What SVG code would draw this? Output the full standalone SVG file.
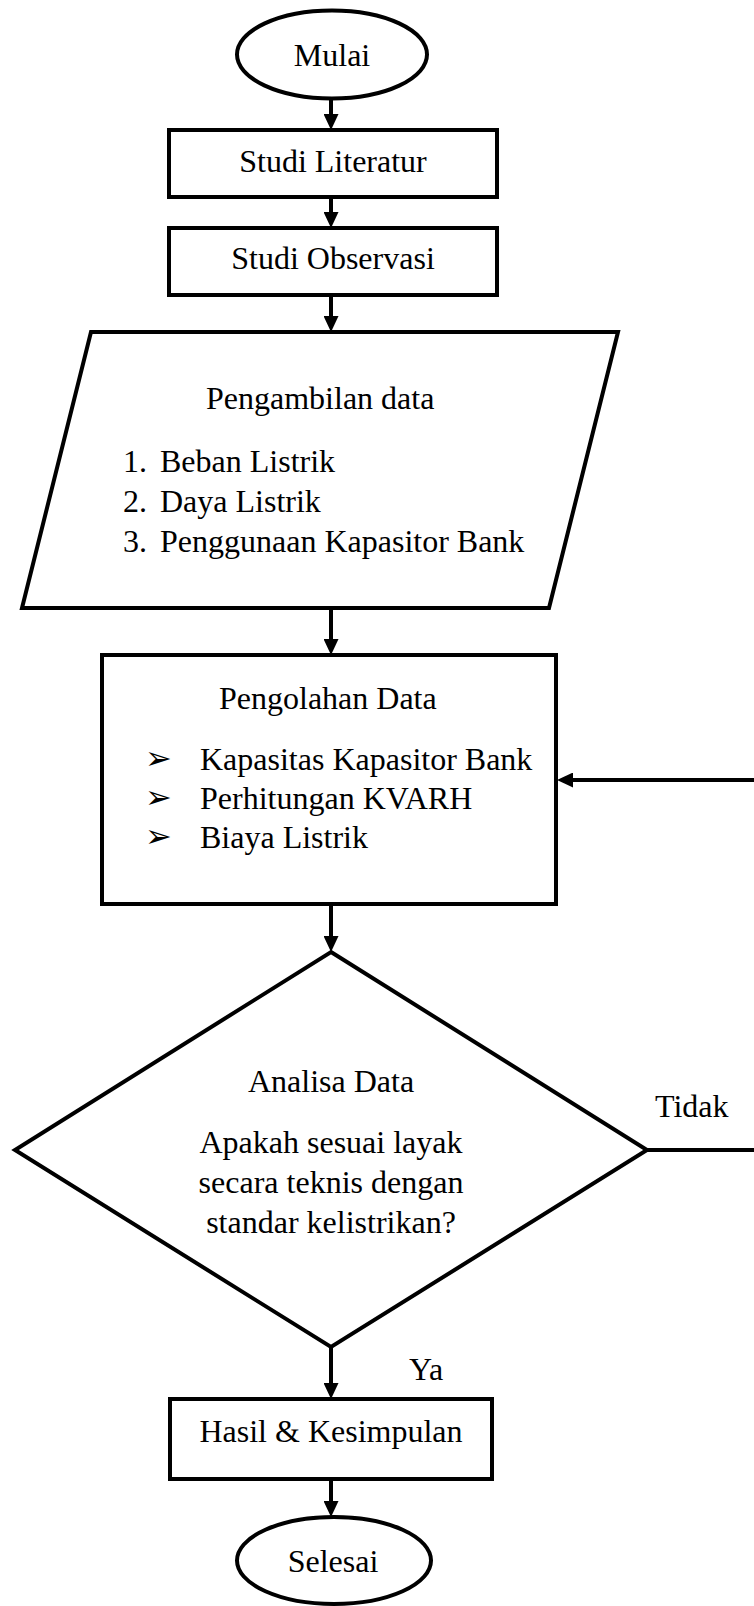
<svg xmlns="http://www.w3.org/2000/svg" width="754" height="1606" viewBox="0 0 754 1606">
<style>
.s{fill:#fff;stroke:#000;stroke-width:4}
.c{fill:none;stroke:#000;stroke-width:4}
text{font-family:"Liberation Serif","Times New Roman",serif;font-size:32px;fill:#000}
.m{text-anchor:middle}
.b{font-family:"DejaVu Sans",sans-serif;font-size:32px}
</style>
<defs>
<marker id="ah" markerUnits="userSpaceOnUse" markerWidth="16" markerHeight="15" refX="0" refY="7.5" orient="auto">
<path d="M0,0 L16,7.5 L0,15 z" fill="#000"/>
</marker>
</defs>
<rect width="754" height="1606" fill="#fff"/>
<g id="connectors">
<line class="c" x1="331" y1="99" x2="331" y2="114" marker-end="url(#ah)"/>
<line class="c" x1="331" y1="197" x2="331" y2="212" marker-end="url(#ah)"/>
<line class="c" x1="331" y1="295" x2="331" y2="316" marker-end="url(#ah)"/>
<line class="c" x1="331" y1="608" x2="331" y2="639" marker-end="url(#ah)"/>
<line class="c" x1="331" y1="904" x2="331" y2="936" marker-end="url(#ah)"/>
<line class="c" x1="331" y1="1347" x2="331" y2="1383" marker-end="url(#ah)"/>
<line class="c" x1="331" y1="1479" x2="331" y2="1501" marker-end="url(#ah)"/>
<line class="c" x1="647" y1="1150" x2="754" y2="1150"/>
<line class="c" x1="754" y1="780" x2="573" y2="780" marker-end="url(#ah)"/>
<text x="655" y="1117">Tidak</text>
<text x="409" y="1380">Ya</text>
</g>
<g id="mulai">
<ellipse class="s" cx="332" cy="54.5" rx="95" ry="44"/>
<text class="m" x="332" y="66">Mulai</text>
</g>
<g id="studi-literatur">
<rect class="s" x="169" y="130" width="328" height="67"/>
<text class="m" x="333" y="172">Studi Literatur</text>
</g>
<g id="studi-observasi">
<rect class="s" x="169" y="228" width="328" height="67"/>
<text class="m" x="333" y="269">Studi Observasi</text>
</g>
<g id="pengambilan-data">
<polygon class="s" points="91,332 618,332 549,608 22,608"/>
<text x="206" y="409">Pengambilan data</text>
<text x="123" y="472">1.</text><text x="160" y="472">Beban Listrik</text>
<text x="123" y="512">2.</text><text x="160" y="512">Daya Listrik</text>
<text x="123" y="552">3.</text><text x="160" y="552">Penggunaan Kapasitor Bank</text>
</g>
<g id="pengolahan-data">
<rect class="s" x="102" y="655" width="454" height="249"/>
<text x="219" y="709">Pengolahan Data</text>
<text class="b" x="145" y="769">➢</text><text x="200" y="770">Kapasitas Kapasitor Bank</text>
<text class="b" x="145" y="808">➢</text><text x="200" y="809">Perhitungan KVARH</text>
<text class="b" x="145" y="847">➢</text><text x="200" y="848">Biaya Listrik</text>
</g>
<g id="analisa-data">
<polygon class="s" points="331,952 647,1150 331,1347 15,1150"/>
<text class="m" x="331" y="1092">Analisa Data</text>
<text class="m" x="331" y="1153">Apakah sesuai layak</text>
<text class="m" x="331" y="1193">secara teknis dengan</text>
<text class="m" x="331" y="1233">standar kelistrikan?</text>
</g>
<g id="hasil">
<rect class="s" x="170" y="1399" width="322" height="80"/>
<text class="m" x="331" y="1442">Hasil &amp; Kesimpulan</text>
</g>
<g id="selesai">
<ellipse class="s" cx="334" cy="1560.5" rx="97" ry="43.5"/>
<text class="m" x="333" y="1572">Selesai</text>
</g>
</svg>
